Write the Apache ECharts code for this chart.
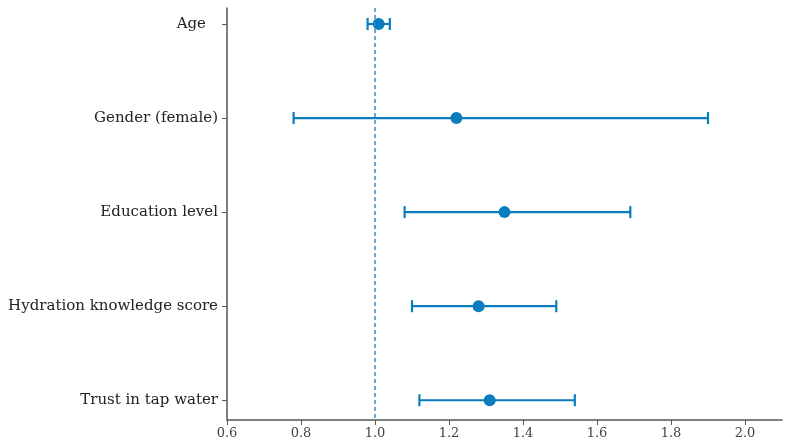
<!DOCTYPE html>
<html>
<head>
<meta charset="utf-8">
<script src="https://cdn.jsdelivr.net/npm/echarts@6/dist/echarts.min.js"></script>
<style>
  html, body { margin: 0; padding: 0; background: #fff; }
  #main { width: 787px; height: 447px; }
</style>
</head>
<body>
<div id="main"></div>
<script>
var categories = ['Age', 'Gender (female)', 'Education level', 'Hydration knowledge score', 'Trust in tap water'];
var estimate = [1.01, 1.22, 1.35, 1.28, 1.31];
var lower = [0.98, 0.78, 1.08, 1.10, 1.12];
var upper = [1.04, 1.90, 1.69, 1.49, 1.54];
var xTicks = [0.6, 0.8, 1.0, 1.2, 1.4, 1.6, 1.8, 2.0];

var blue = '#0b7dbf';
var axisGray = '#555';

var myChart = echarts.init(document.getElementById('main'));

var barData = categories.map(function (c, i) {
    return [i, lower[i], upper[i]];
});
var pointData = categories.map(function (c, i) {
    return [estimate[i], i];
});

myChart.setOption({
    backgroundColor: '#ffffff',
    animation: false,
    grid: { left: 227, right: 5, top: 8, bottom: 27 },
    xAxis: {
        type: 'value',
        min: 0.6,
        max: 2.1,
        interval: 0.2,
        axisLine: { show: true, onZero: false, lineStyle: { color: axisGray, width: 1.5 } },
        axisTick: { show: true, customValues: xTicks, length: 5, lineStyle: { color: axisGray } },
        axisLabel: {
            customValues: xTicks,
            color: '#444',
            fontFamily: 'DejaVu Serif',
            fontSize: 13,
            margin: 7,
            formatter: function (v) { return v.toFixed(1); }
        },
        splitLine: { show: false }
    },
    yAxis: {
        type: 'value',
        inverse: true,
        min: -0.17,
        max: 4.21,
        axisLine: { show: true, onZero: false, lineStyle: { color: axisGray, width: 1.5 } },
        axisTick: { show: true, customValues: [0, 1, 2, 3, 4], length: 5, lineStyle: { color: axisGray } },
        axisLabel: {
            customValues: [0, 1, 2, 3, 4],
            color: '#222',
            fontFamily: 'DejaVu Serif',
            fontSize: 15,
            margin: 9,
            formatter: function (v) {
                var i = Math.round(v);
                // the first label sits a bit further from its tick in the original
                return i === 0 ? '{pad|' + categories[i] + '}' : categories[i];
            },
            rich: {
                pad: { fontFamily: 'DejaVu Serif', fontSize: 15, color: '#222', padding: [0, 12, 0, 0] }
            }
        },
        splitLine: { show: false }
    },
    series: [{
        type: 'custom',
        data: barData,
        renderItem: function (params, api) {
            var y = api.value(0);
            var p1 = api.coord([api.value(1), y]);
            var p2 = api.coord([api.value(2), y]);
            var cap = 6;
            var style = { stroke: blue, lineWidth: 2.2 };
            return {
                type: 'group',
                children: [
                    { type: 'line', shape: { x1: p1[0], y1: p1[1], x2: p2[0], y2: p2[1] }, style: style },
                    { type: 'line', shape: { x1: p1[0], y1: p1[1] - cap, x2: p1[0], y2: p1[1] + cap }, style: style },
                    { type: 'line', shape: { x1: p2[0], y1: p2[1] - cap, x2: p2[0], y2: p2[1] + cap }, style: style }
                ]
            };
        },
        markLine: {
            silent: true,
            symbol: 'none',
            label: { show: false },
            lineStyle: { color: '#2f8fd0', type: [4, 3], width: 1.5 },
            data: [{ xAxis: 1.0 }]
        },
        z: 2
    }, {
        type: 'scatter',
        data: pointData,
        symbol: 'circle',
        symbolSize: 12,
        itemStyle: { color: blue, opacity: 1 },
        z: 3
    }]
});
</script>
</body>
</html>
